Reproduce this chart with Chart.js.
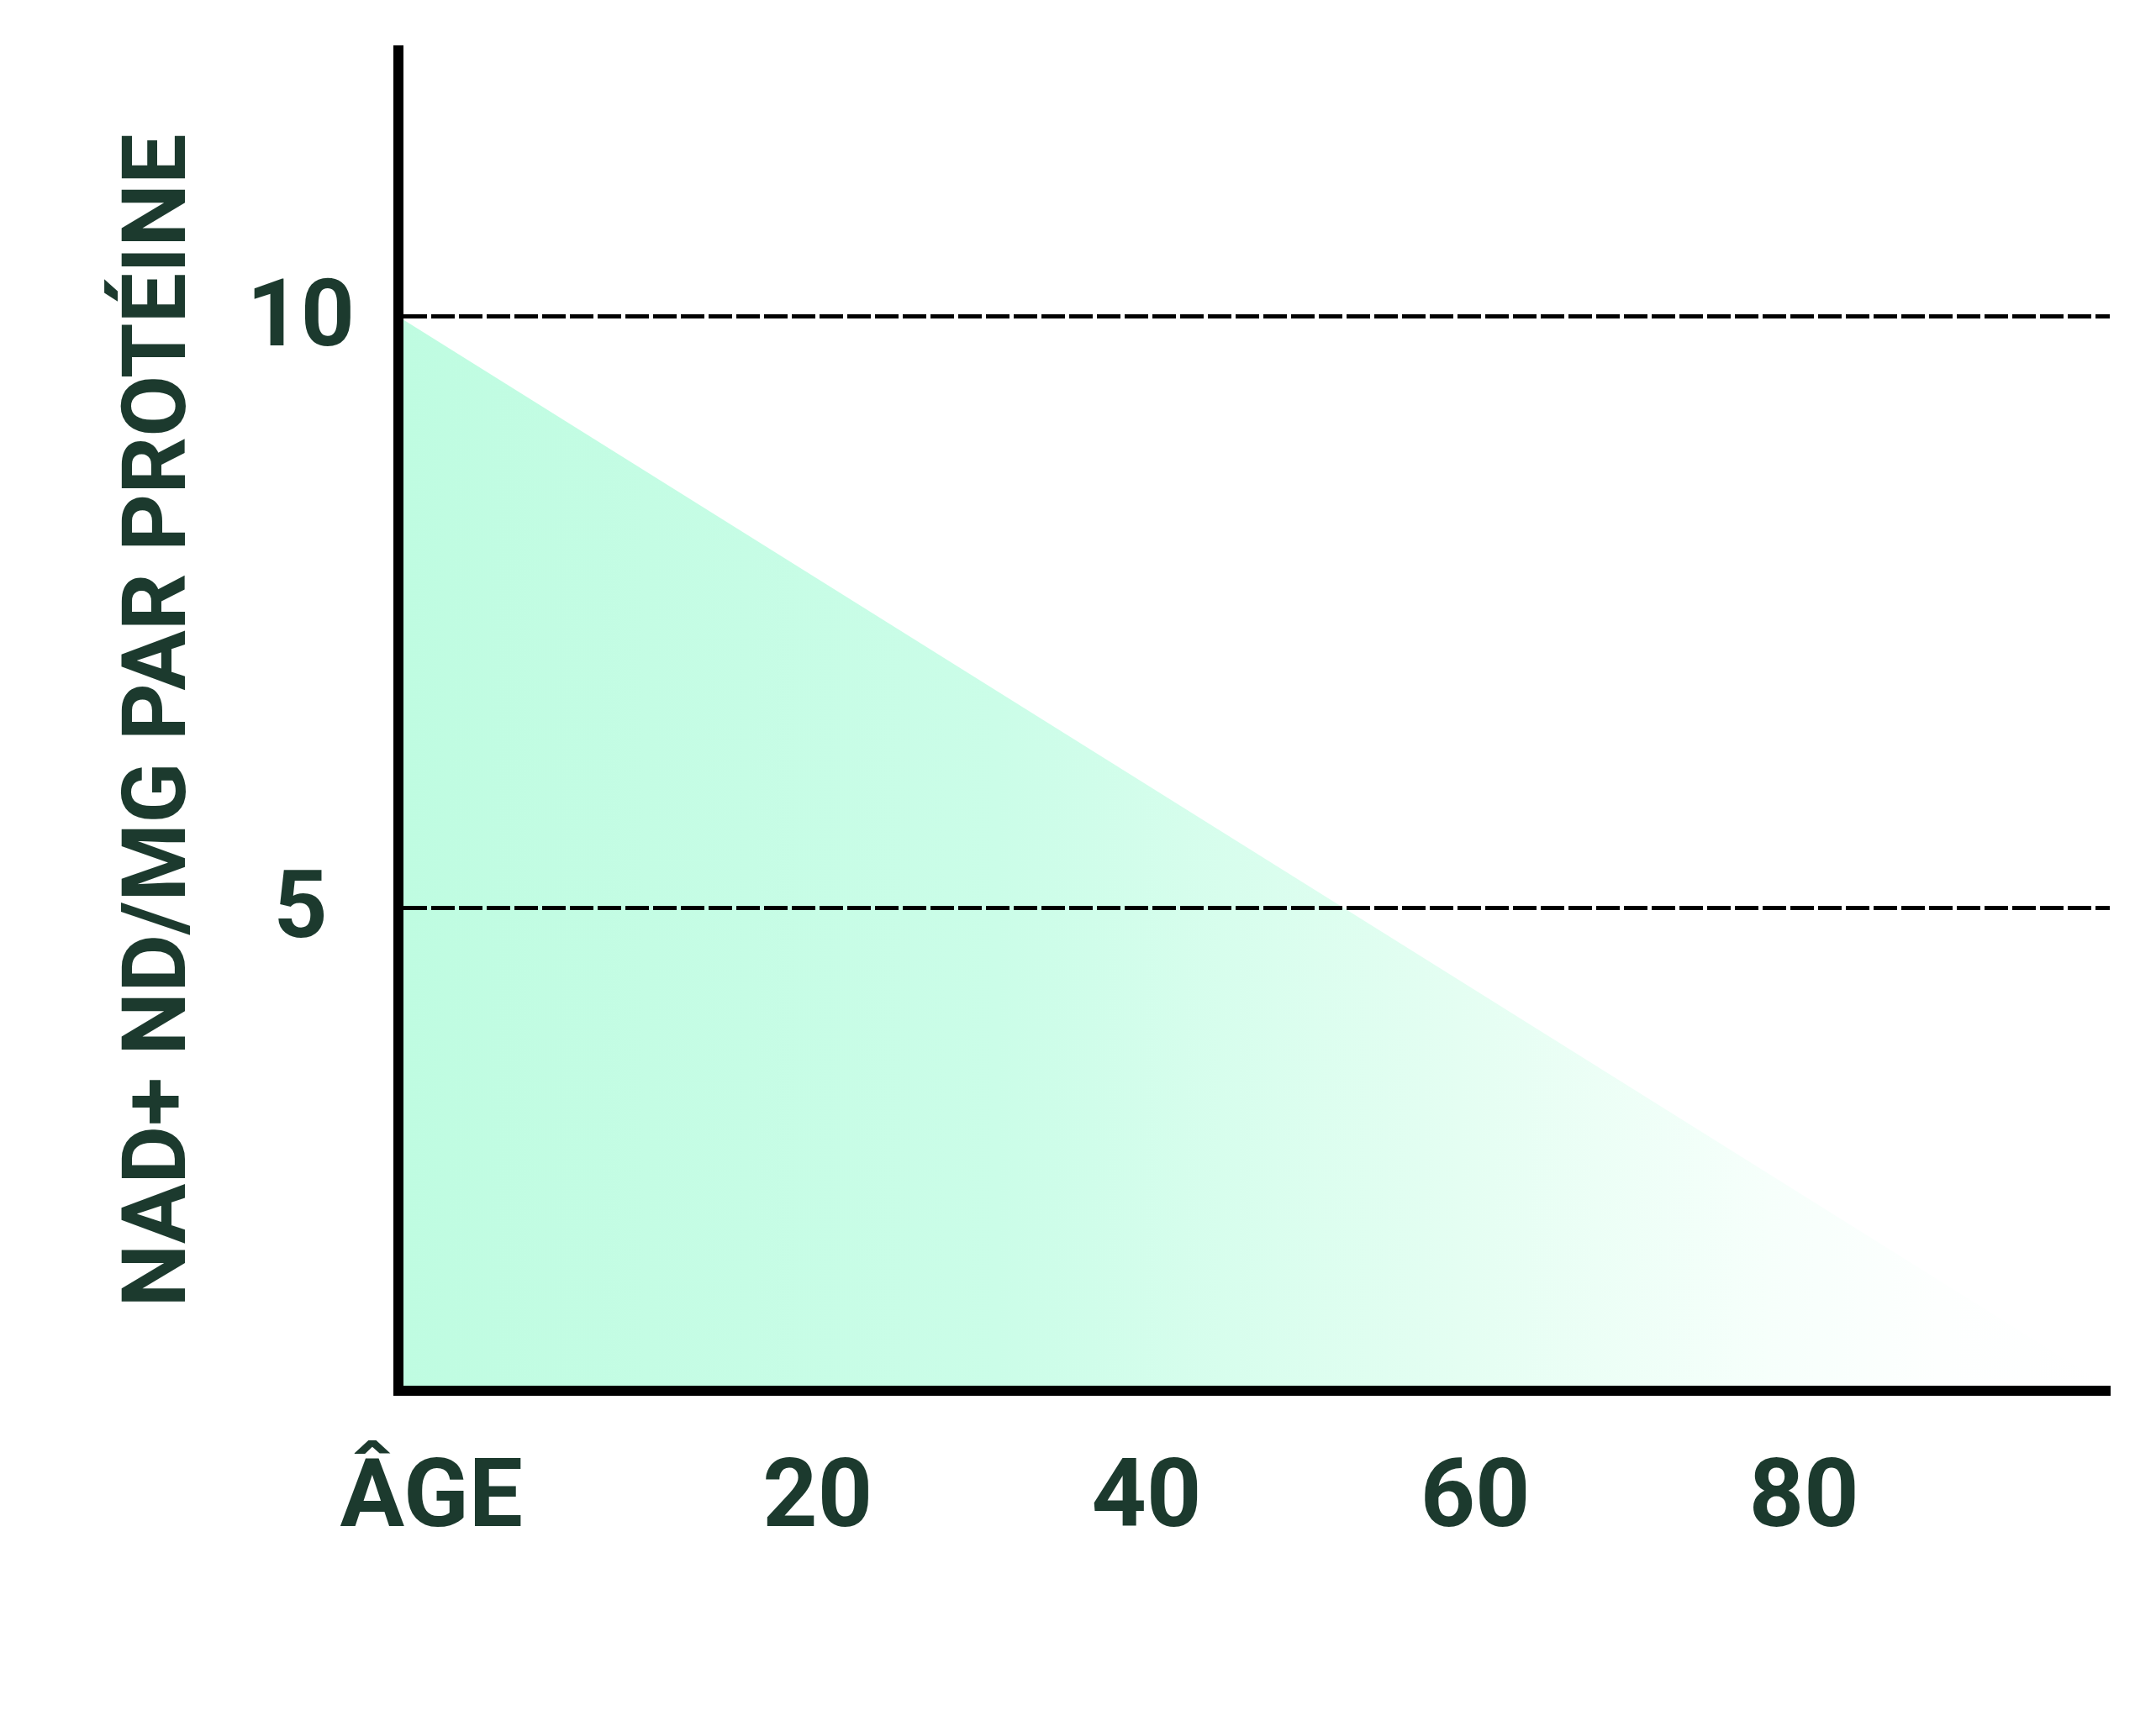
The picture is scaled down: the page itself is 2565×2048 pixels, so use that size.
<!DOCTYPE html>
<html>
<head>
<meta charset="utf-8">
<script src="https://cdn.jsdelivr.net/npm/chart.js@4.4.1/dist/chart.umd.min.js"></script>
<style>
  html, body { margin: 0; padding: 0; background: #ffffff; }
  #wrap { width: 2565px; height: 2048px; }
</style>
</head>
<body>
<div id="wrap"><canvas id="c" width="2565" height="2048"></canvas></div>
<script>
// ---- data ----
const ages = [-5.5, 98.6];              // age at start / end of the curve (axis edges)
const nadLevels = [10, 0.95];           // NAD+ level at those ages
const yTickValues = [5, 10];
const xTickValues = [-3.5, 20, 40, 60, 80];
const xTickLabels = ['ÂGE', '20', '40', '60', '80'];
const yAxisTitle = 'NAD+ ND/MG PAR PROTÉINE';
const yMin = 0.92;
const yMax = 12.25;

const textColor = '#1c3a2e';

const points = ages.map((a, i) => ({ x: a, y: nadLevels[i] }));

function mintGradient(ctx) {
  const chart = ctx.chart;
  const area = chart.chartArea;
  if (!area) return '#c0fde2';
  const g = chart.ctx.createLinearGradient(area.left, 0, area.right, 0);
  g.addColorStop(0, '#bffce1');
  g.addColorStop(0.35, '#cbfde8');
  g.addColorStop(0.62, '#e4fef2');
  g.addColorStop(0.8, '#f6fffb');
  g.addColorStop(0.9, '#fdfffe');
  g.addColorStop(1, '#ffffff');
  return g;
}

new Chart(document.getElementById('c'), {
  type: 'line',
  data: {
    datasets: [{
      data: points,
      fill: 'start',
      backgroundColor: mintGradient,
      borderWidth: 0,
      borderColor: 'rgba(0,0,0,0)',
      pointRadius: 0,
      tension: 0
    }]
  },
  options: {
    responsive: false,
    animation: false,
    layout: { padding: { top: 60, right: 55, left: 0, bottom: 0 } },
    plugins: { legend: { display: false }, tooltip: { enabled: false }, title: { display: false } },
    scales: {
      x: {
        type: 'linear',
        min: ages[0],
        max: ages[ages.length - 1],
        afterFit: (s) => { s.height = 393; s.paddingLeft = 0; s.paddingRight = 0; },
        afterBuildTicks: (s) => { s.ticks = xTickValues.map(v => ({ value: v })); },
        grid: { display: false, drawTicks: false },
        border: { display: true, width: 12, color: '#000000', z: 1 },
        ticks: {
          autoSkip: false,
          maxRotation: 0,
          minRotation: 0,
          padding: 64,
          color: textColor,
          font: { family: 'Roboto', weight: 'bold', size: 114 },
          callback: (v) => {
            const i = xTickValues.indexOf(v);
            return i >= 0 ? xTickLabels[i] : '';
          }
        }
      },
      y: {
        type: 'linear',
        min: yMin,
        max: yMax,
        afterFit: (s) => { s.width = 474; s.paddingTop = 0; s.paddingBottom = 0; },
        afterBuildTicks: (s) => { s.ticks = yTickValues.map(v => ({ value: v })); },
        grid: { display: true, drawTicks: false, color: '#000000', lineWidth: 5, z: 1 },
        border: { display: true, width: 12, color: '#000000', z: 1, dash: [28, 5] },
        ticks: {
          crossAlign: 'center',
          padding: 52,
          labelOffset: 6,
          color: textColor,
          font: { family: 'Roboto', weight: 'bold', size: 112 },
          callback: (v) => String(v)
        },
        title: {
          display: true,
          text: yAxisTitle,
          color: textColor,
          font: { family: 'Roboto', weight: 'bold', size: 106 },
          padding: { top: 130, bottom: 0 }
        }
      }
    }
  }
});
</script>
</body>
</html>
